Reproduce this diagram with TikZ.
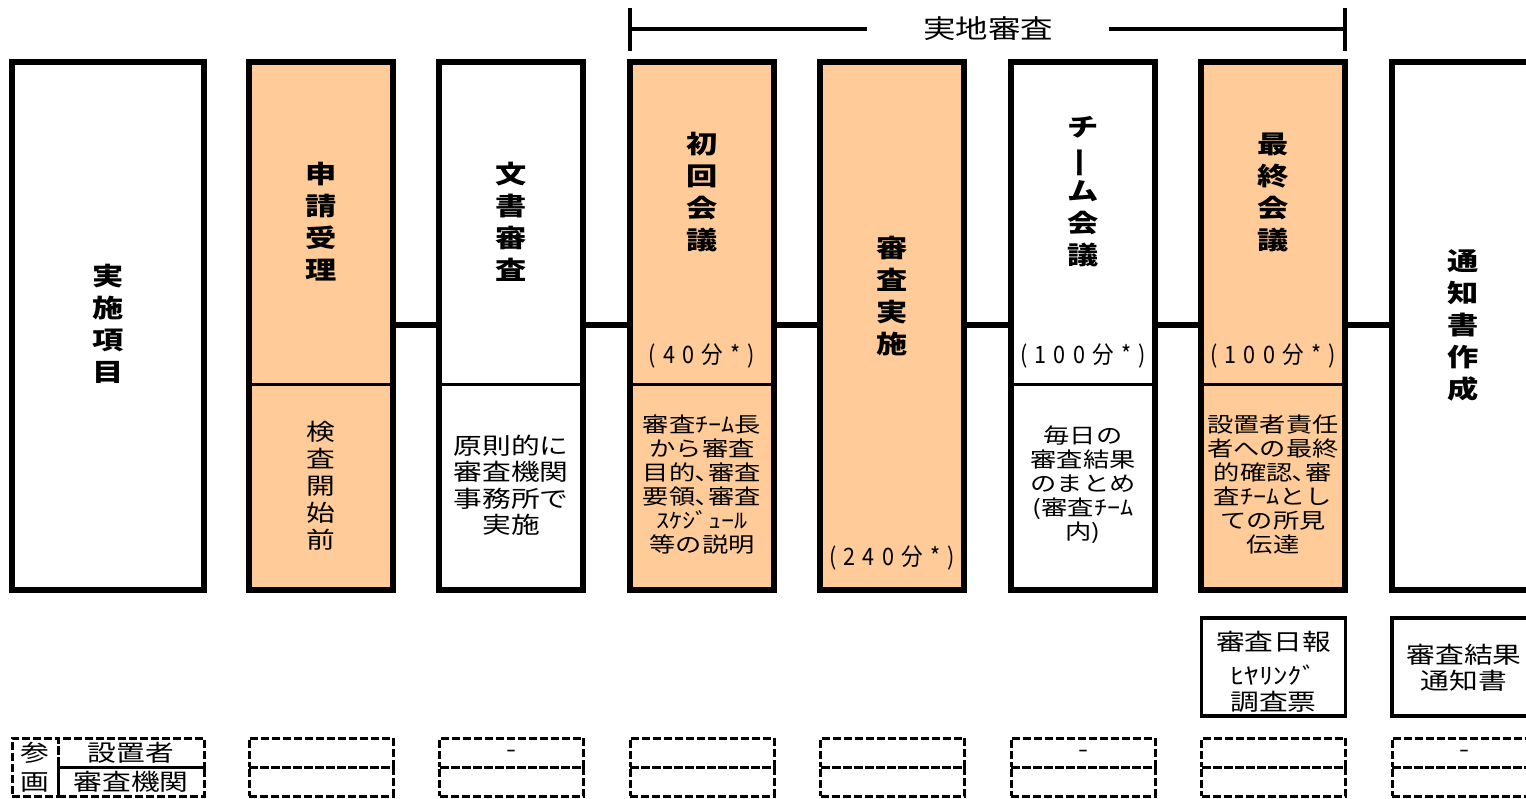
\documentclass[tikz,border=0pt]{standalone}
\usepackage{fontspec}
\setmainfont{Noto Sans CJK JP}[FakeStretch=1.25]
\newfontfamily\tmfont{Noto Sans CJK JP}[FakeStretch=0.9, WordSpace=1.5]
\definecolor{peach}{HTML}{FFCC99}
\newcommand{\vbar}{\rotatebox[origin=c]{90}{ー}}

\tikzset{
    col/.style={draw, line width=5.5pt, minimum width=144pt, minimum height=528pt, inner sep=0pt},
    head/.style={font=\bfseries\fontsize{25}{32}\selectfont, align=center, inner sep=0pt},
    note/.style={font=\fontsize{21}{24}\selectfont, align=center, inner sep=0pt},
    bignote/.style={font=\fontsize{23}{26.5}\selectfont, align=center, inner sep=0pt},
    tm/.style={font=\tmfont\fontsize{24}{24}\selectfont, inner sep=0pt},
    sep/.style={line width=3pt},
    link/.style={line width=6pt},
    bar/.style={line width=3.5pt},
    doc/.style={draw, line width=3.5pt, minimum width=144pt, minimum height=98pt, inner sep=0pt},
    doctext/.style={align=center, inner sep=0pt, font=\fontsize{23}{26}\selectfont},
    cell/.style={draw, line width=3pt, dash pattern=on 8pt off 3pt, minimum width=144pt, minimum height=29pt, inner sep=0pt, font=\fontsize{23}{23}\selectfont}
}

\begin{document}
\begin{tikzpicture}[x=1pt, y=-1pt]
    \useasboundingbox (0,0) rectangle (1526,798);
    \coordinate (lk) at (0,325);
    \coordinate (dv) at (0,384);

    % 実地審査 bracket
    \coordinate (ba) at (630,29);
    \coordinate (bb) at (1345,29);
    \node[inner ysep=0pt, inner xsep=56pt, font=\fontsize{26}{26}\selectfont] (jc) at (988,29) {実地審査};
    \draw[bar] (ba) -- (jc.west);
    \draw[bar] (jc.east) -- (bb);
    \draw[bar] ([yshift=21pt]ba) -- ([yshift=-22pt]ba);
    \draw[bar] ([yshift=21pt]bb) -- ([yshift=-22pt]bb);

    % columns
    \node[col, minimum width=192pt] (c0) at (108,326) {};
    \node[head] (h0) at (108,324) {実\\施\\項\\目};

    \node[col, fill=peach] (c1) at (321,326) {};
    \draw[sep] (c1.west |- dv) -- (c1.east |- dv);
    \node[head] (h1) at (321,222) {申\\請\\受\\理};
    \node[bignote, font=\fontsize{23}{27}\selectfont] (n1) at (321,486) {検\\査\\開\\始\\前};

    \node[col] (c2) at (511,326) {};
    \draw[sep] (c2.west |- dv) -- (c2.east |- dv);
    \node[head] (h2) at (511,222) {文\\書\\審\\査};
    \node[bignote] (n2) at (511,485) {原則的に\\審査機関\\事務所で\\実施};

    \node[col, fill=peach] (c3) at (702,326) {};
    \draw[sep] (c3.west |- dv) -- (c3.east |- dv);
    \node[head] (h3) at (702,192) {初\\回\\会\\議};
    \node[tm] (m3) at (702,356) {( 4 0 分 * )};
    \node[note] (n3) at (702,485) {審査ﾁｰﾑ長\\から審査\\目的､審査\\要領､審査\\ｽｹｼﾞｭｰﾙ\\等の説明};

    \node[col, fill=peach] (c4) at (892,326) {};
    \node[head] (h4) at (892,296) {審\\査\\実\\施};
    \node[tm] (m4) at (892,558) {( 2 4 0 分 * )};

    \node[col] (c5) at (1083,326) {};
    \draw[sep] (c5.west |- dv) -- (c5.east |- dv);
    \node[head] (h5) at (1083,192) {チ\\\vbar\\ム\\会\\議};
    \node[tm] (m5) at (1083,356) {( 1 0 0 分 * )};
    \node[note] (n5) at (1083,485) {毎日の\\審査結果\\のまとめ\\(審査ﾁｰﾑ\\内)};

    \node[col, fill=peach] (c6) at (1273,326) {};
    \draw[sep] (c6.west |- dv) -- (c6.east |- dv);
    \node[head] (h6) at (1273,192) {最\\終\\会\\議};
    \node[tm] (m6) at (1273,356) {( 1 0 0 分 * )};
    \node[note] (n6) at (1273,485) {設置者責任\\者への最終\\的確認､審\\査ﾁｰﾑとし\\ての所見\\伝達};

    \node[col] (c7) at (1464,326) {};
    \node[head] (h7) at (1463,325) {通\\知\\書\\作\\成};

    % links
    \foreach \i/\j in {1/2, 2/3, 3/4, 4/5, 5/6, 6/7} {
        \draw[link] (c\i.east |- lk) -- (c\j.west |- lk);
    }

    % documents
    \node[doc] (d6) at (1273.5,667) {};
    \node[doctext] (t6) at ([yshift=-5pt]d6.center) {審査日報\\[8pt]ﾋﾔﾘﾝｸﾞ\\調査票};
    \node[doc] (d7) at (1464,667) {};
    \node[doctext] (t7) at ([yshift=-1pt]d7.center) {審査結果\\通知書};

    % participation rows
    \node[cell, minimum width=46pt, minimum height=58pt, font=\fontsize{23}{29}\selectfont, align=center] (pk) at (35,767) {参\\画};
    \node[cell, minimum width=146pt] (p0) at (131,752.5) {設置者};
    \node[cell, minimum width=146pt] (q0) at (131,781.5) {審査機関};
    \foreach \i/\t in {1/, 2/-, 3/, 4/, 5/-, 6/, 7/-} {
        \node[cell] (p\i) at ({321+190.5*(\i-1)},752.5) {\strut\t};
        \node[cell] (q\i) at ({321+190.5*(\i-1)},781.5) {};
    }
\end{tikzpicture}
\end{document}
